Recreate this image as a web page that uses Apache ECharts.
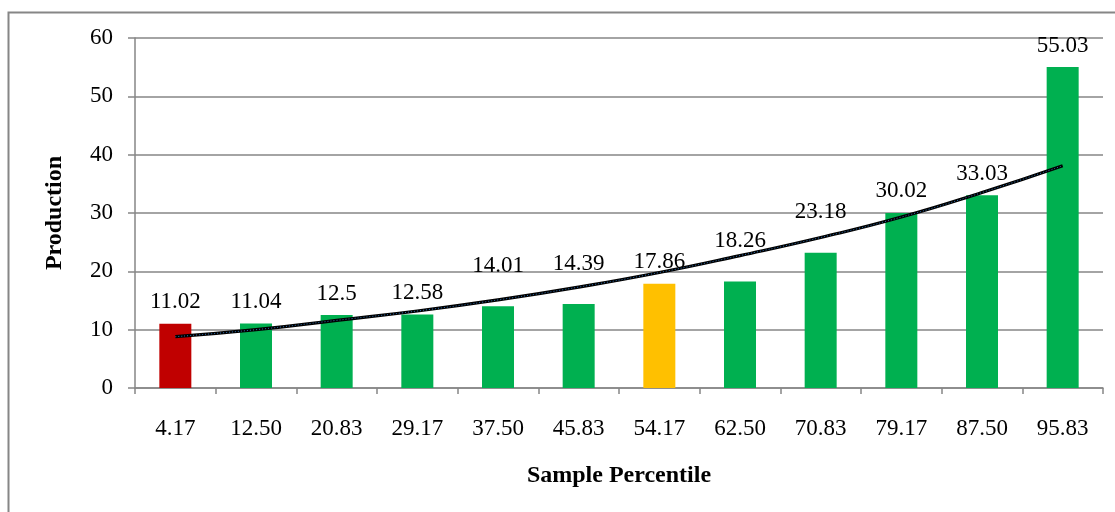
<!DOCTYPE html>
<html>
<head>
<meta charset="utf-8">
<script src="https://cdn.jsdelivr.net/npm/echarts@6/dist/echarts.min.js"></script>
<style>
    html, body { margin: 0; padding: 0; background: #fff; }
    #ProductionContainer { width: 1115px; height: 512px; }
</style>
</head>
<body>
<div id="ProductionContainer"></div>
<script>
// data
var percentiles = ['4.17', '12.50', '20.83', '29.17', '37.50', '45.83', '54.17', '62.50', '70.83', '79.17', '87.50', '95.83'];
var production = [11.02, 11.04, 12.5, 12.58, 14.01, 14.39, 17.86, 18.26, 23.18, 30.02, 33.03, 55.03];
var barColors = ['#C00000', '#00B050', '#00B050', '#00B050', '#00B050', '#00B050', '#FFC000', '#00B050', '#00B050', '#00B050', '#00B050', '#00B050'];
// trend line (polynomial) values read at each category
var trend = [8.8, 10.0, 11.6, 13.2, 15.1, 17.3, 19.8, 22.7, 25.8, 29.3, 33.5, 38.1];
var yTicks = [0, 10, 20, 30, 40, 50, 60];

function Set_Production_echarts() {
    var dom = document.getElementById('ProductionContainer');
    var myChart = echarts.init(dom, null, {
        renderer: 'canvas',
        useDirtyRect: false
    });

    var fontFamily = '"Liberation Serif", "Times New Roman", serif';
    var gray = '#868686';
    // labels that sit higher to clear the trend line
    var raisedLabels = [4, 5, 7, 8];

    var barData = production.map(function (v, i) {
        var item = { value: v, itemStyle: { color: barColors[i] } };
        if (raisedLabels.indexOf(i) >= 0) {
            item.label = { distance: 29 };
        }
        return item;
    });

    var option = {
        animation: false,
        backgroundColor: '#fff',
        textStyle: { fontFamily: fontFamily },
        graphic: [
            {
                type: 'rect',
                shape: { x: 8.5, y: 12.5, width: 1200, height: 600 },
                style: { fill: 'none', stroke: gray, lineWidth: 2 },
                silent: true,
                z: -1
            }
        ],
        grid: {
            left: 135,
            right: 12,
            top: 38,
            bottom: 124,
            containLabel: false
        },
        xAxis: {
            type: 'category',
            data: percentiles,
            name: 'Sample Percentile',
            nameLocation: 'middle',
            nameGap: 76,
            nameTextStyle: {
                fontFamily: fontFamily,
                fontWeight: 'bold',
                fontSize: 24,
                color: '#000'
            },
            axisLine: { show: true, lineStyle: { color: gray, width: 1.5 } },
            axisTick: { show: true, alignWithLabel: false, length: 6, lineStyle: { color: gray, width: 1.5 } },
            axisLabel: {
                fontFamily: fontFamily,
                fontSize: 23,
                color: '#000',
                margin: 29,
                interval: 0
            },
            splitLine: { show: false }
        },
        yAxis: {
            type: 'value',
            min: yTicks[0],
            max: yTicks[yTicks.length - 1],
            interval: 10,
            name: 'Production',
            nameLocation: 'middle',
            nameGap: 68,
            nameRotate: 90,
            nameTextStyle: {
                fontFamily: fontFamily,
                fontWeight: 'bold',
                fontSize: 24,
                color: '#000'
            },
            axisLine: { show: true, lineStyle: { color: gray, width: 1.5 } },
            axisTick: { show: true, length: 7, lineStyle: { color: gray, width: 1.5 } },
            axisLabel: {
                fontFamily: fontFamily,
                fontSize: 23,
                color: '#000',
                margin: 22
            },
            splitLine: { show: true, lineStyle: { color: gray, width: 1.5 } }
        },
        series: [
            {
                name: 'Production',
                type: 'bar',
                barWidth: 32,
                data: barData,
                label: {
                    show: true,
                    position: 'top',
                    distance: 10,
                    fontFamily: fontFamily,
                    fontSize: 23,
                    color: '#000'
                },
                z: 2
            },
            {
                name: 'Trend',
                type: 'line',
                data: trend,
                smooth: true,
                symbol: 'none',
                lineStyle: { color: '#000', width: 3.2 },
                z: 3
            },
            {
                name: 'Trend dots',
                type: 'line',
                data: trend,
                smooth: true,
                symbol: 'none',
                lineStyle: { color: '#2f6fb0', width: 1, type: [1, 2] },
                z: 4
            }
        ]
    };

    if (option && typeof option === 'object') {
        myChart.setOption(option);
    }

    window.addEventListener('resize', myChart.resize);
}

Set_Production_echarts();
</script>
</body>
</html>
